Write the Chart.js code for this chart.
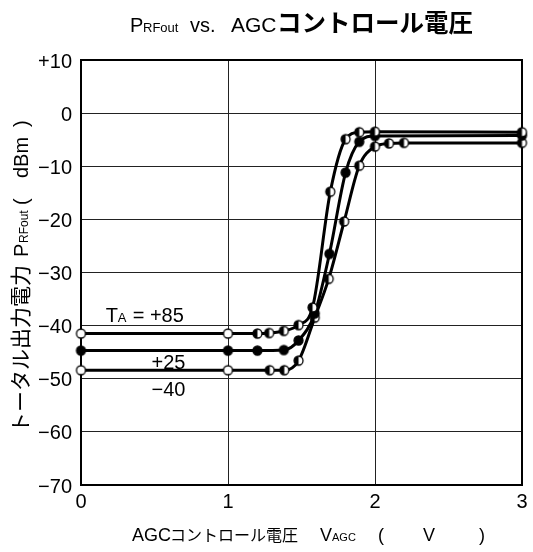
<!DOCTYPE html>
<html>
<head>
<meta charset="utf-8">
<script src="https://cdn.jsdelivr.net/npm/chart.js@4.4.1/dist/chart.umd.min.js"></script>
<style>
html, body { margin: 0; padding: 0; background: #fff; }
#wrap { width: 533px; height: 552px; }
</style>
</head>
<body>
<div id="wrap"><canvas id="agcChart" width="533" height="552"></canvas></div>
<script>
// Output power vs. AGC control voltage at three ambient temperatures
const vAgc85 = [0, 1, 1.2, 1.28, 1.38, 1.48, 1.575, 1.696, 1.8, 1.893, 2.0, 3]
const pOut85 = [-41.5, -41.5, -41.5, -41.4, -41.0, -39.9, -36.6, -14.8, -4.9, -3.6, -3.5, -3.6]

const vAgc25 = [0, 1, 1.2, 1.38, 1.48, 1.59, 1.69, 1.8, 1.893, 2.0, 3]
const pOut25 = [-44.7, -44.7, -44.7, -44.6, -42.8, -37.7, -26.5, -11.2, -5.4, -4.3, -4.2]

const vAgcM40 = [0, 1, 1.284, 1.383, 1.48, 1.59, 1.685, 1.79, 1.893, 2.0, 2.095, 2.197, 3]
const pOutM40 = [-48.4, -48.4, -48.4, -48.4, -46.6, -38.5, -31.2, -20.4, -9.9, -6.3, -5.7, -5.6, -5.6]

const xTicks = [0, 1, 2, 3]
const yTickLabels = ['+10', '0', '\u221210', '\u221220', '\u221230', '\u221240', '\u221250', '\u221260', '\u221270']

const LATIN = '"Liberation Sans", Arial, sans-serif'
const CJK = '"Noto Sans CJK JP", sans-serif'

// round markers: open, filled, or left-half filled
function marker(kind) {
    const r = 4.5
    const s = 13
    const c = document.createElement('canvas')
    c.width = s
    c.height = s
    const g = c.getContext('2d')
    const m = s / 2
    g.beginPath()
    g.arc(m, m, r, 0, Math.PI * 2)
    g.fillStyle = kind === 'filled' ? '#000' : '#fff'
    g.fill()
    if (kind === 'half') {
        g.beginPath()
        g.moveTo(m, m - r)
        g.arc(m, m, r, -Math.PI / 2, Math.PI / 2, true)
        g.closePath()
        g.fillStyle = '#000'
        g.fill()
    }
    g.lineWidth = 1.3
    g.strokeStyle = '#000'
    g.beginPath()
    g.arc(m, m, r, 0, Math.PI * 2)
    g.stroke()
    return c
}

const OPEN = marker('open')
const FILLED = marker('filled')
const HALF = marker('half')

function series(xs, ys, styleFor) {
    return {
        data: xs.map((x, i) => ({ x, y: ys[i] })),
        showLine: true,
        borderColor: '#000',
        borderWidth: 3,
        cubicInterpolationMode: 'monotone',
        pointStyle: xs.map((x, i) => styleFor(i)),
        pointRadius: 5,
        clip: false
    }
}

// draws a run of text pieces at fixed offsets along the baseline
function drawRun(ctx, pieces, x0, y0) {
    pieces.forEach(p => {
        ctx.font = p.font
        ctx.fillText(p.text, x0 + p.at, y0)
    })
}

const textPlugin = {
    id: 'texts',
    beforeDatasetsDraw(chart) {
        const { ctx, chartArea: a } = chart
        ctx.save()
        ctx.strokeStyle = '#000'
        ctx.lineWidth = 2
        ctx.strokeRect(a.left, a.top, a.right - a.left, a.bottom - a.top)
        ctx.restore()
    },
    afterDraw(chart) {
        const { ctx, scales } = chart
        ctx.save()
        ctx.fillStyle = '#000'
        ctx.textBaseline = 'alphabetic'
        ctx.textAlign = 'left'

        // title
        drawRun(ctx, [
            { text: 'P', font: `20px ${LATIN}`, at: 0 },
            { text: 'RFout', font: `13px ${LATIN}`, at: 13 },
            { text: 'vs.', font: `20px ${LATIN}`, at: 60 },
            { text: 'AGC', font: `21px ${LATIN}`, at: 101 },
            { text: 'コントロール電圧', font: `bold 24.5px ${CJK}`, at: 147 }
        ], 130, 32)

        // x axis title
        drawRun(ctx, [
            { text: 'AGC', font: `18px ${LATIN}`, at: 0 },
            { text: 'コントロール電圧', font: `16px ${CJK}`, at: 38 },
            { text: 'V', font: `18px ${LATIN}`, at: 188 },
            { text: 'AGC', font: `11px ${LATIN}`, at: 200 },
            { text: '(', font: `18px ${LATIN}`, at: 246 },
            { text: 'V', font: `18px ${LATIN}`, at: 291 },
            { text: ')', font: `18px ${LATIN}`, at: 347 }
        ], 132, 541)

        // y axis title, reading upward
        ctx.save()
        ctx.translate(28, 433)
        ctx.rotate(-Math.PI / 2)
        drawRun(ctx, [
            { text: 'トータル出力電力', font: `21px ${CJK}`, at: 0 },
            { text: 'P', font: `20px ${LATIN}`, at: 176 },
            { text: 'RFout', font: `12px ${LATIN}`, at: 190 },
            { text: '(', font: `20px ${LATIN}`, at: 228 },
            { text: 'dBm', font: `20px ${LATIN}`, at: 255 },
            { text: ')', font: `20px ${LATIN}`, at: 306 }
        ], 0, 0)
        ctx.restore()

        // temperature labels next to the flat parts of the curves
        const xs = scales.x
        const ys = scales.y
        drawRun(ctx, [
            { text: 'T', font: `20px ${LATIN}`, at: 0 },
            { text: 'A', font: `13px ${LATIN}`, at: 12 },
            { text: '= +85', font: `20px ${LATIN}`, at: 27 }
        ], xs.getPixelForValue(0.168), ys.getPixelForValue(-39.3))
        ctx.font = `20px ${LATIN}`
        ctx.fillText('+25', xs.getPixelForValue(0.48), ys.getPixelForValue(-48.1))
        ctx.fillText('\u221240', xs.getPixelForValue(0.48), ys.getPixelForValue(-53.2))
        ctx.restore()
    }
}

new Chart(document.getElementById('agcChart'), {
    type: 'scatter',
    data: {
        datasets: [
            series(vAgc85, pOut85, i => (i < 2 ? OPEN : HALF)),
            series(vAgc25, pOut25, () => FILLED),
            series(vAgcM40, pOutM40, i => (i < 2 ? OPEN : HALF))
        ]
    },
    options: {
        responsive: false,
        animation: false,
        layout: { padding: { left: 0, right: 11, top: 60, bottom: 37 } },
        plugins: {
            legend: { display: false },
            tooltip: { enabled: false }
        },
        scales: {
            x: {
                type: 'linear',
                min: 0,
                max: 3,
                afterBuildTicks: s => { s.ticks = xTicks.map(v => ({ value: v })) },
                afterFit: s => { s.height = 30 },
                ticks: {
                    color: '#000',
                    padding: 5,
                    maxRotation: 0,
                    font: { family: LATIN, size: 20 },
                    callback: v => String(v)
                },
                grid: { color: '#222', lineWidth: 1, drawTicks: false },
                border: { display: false }
            },
            y: {
                type: 'linear',
                min: -70,
                max: 10,
                afterBuildTicks: s => {
                    s.ticks = yTickLabels.map((t, i) => ({ value: 10 - i * 10 }))
                },
                afterFit: s => { s.width = 81 },
                ticks: {
                    color: '#000',
                    padding: 9,
                    labelOffset: 2,
                    font: { family: LATIN, size: 20 },
                    callback: v => yTickLabels[(10 - v) / 10]
                },
                grid: { color: '#222', lineWidth: 1, drawTicks: false },
                border: { display: false }
            }
        }
    },
    plugins: [textPlugin]
})
</script>
</body>
</html>
